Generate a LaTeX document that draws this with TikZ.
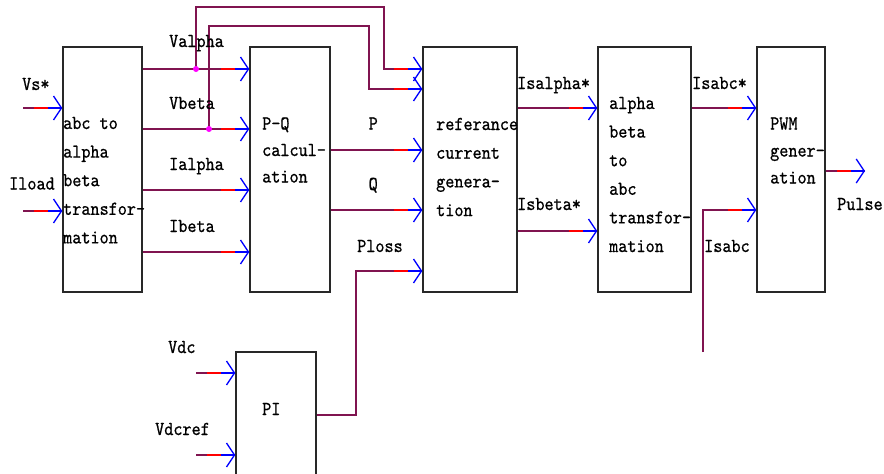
\documentclass[tikz,border=0pt]{standalone}
\usepackage{fontspec}
\newfontfamily\cour[FakeStretch=0.88,FakeBold=0.7]{lmmono10-regular.otf}
\usetikzlibrary{arrows.meta,calc}
\definecolor{wirec}{RGB}{128,20,80}
\definecolor{boxc}{RGB}{40,40,40}
\definecolor{dotc}{RGB}{255,0,255}
\tikzset{
  blockbox/.style={draw=boxc,line width=1.4pt,rectangle,inner sep=0pt,minimum height=245pt},
  wire/.style={draw=wirec,line width=1.4pt},
  redseg/.style={draw=red,line width=1.4pt},
  bluetip/.style={draw=blue,line width=1.3pt,-{Straight Barb[length=8pt,width=24pt]}},
  lbl/.style={font=\cour\fontsize{19.7}{28.7}\selectfont,inner sep=0pt,anchor=base west},
  junction/.style={circle,fill=dotc,inner sep=0pt,minimum size=6pt},
}
\newcommand\feedend[1]{\draw[redseg] ([xshift=-28pt]#1) -- ([xshift=-14pt]#1);
  \draw[bluetip] ([xshift=-14pt]#1) -- (#1);}
\newcommand\blocklines[5]{% name, x, first baseline, spacing, lines
  \foreach \t [count=\i from 0] in {#5} {\node[lbl] (#1\i) at (#2,#3+\i*#4) {\t};}}
\begin{document}
\begin{tikzpicture}[x=1pt,y=-1pt]
\fill[white] (0,0) rectangle (884,474);
\clip (0,0) rectangle (884,474);
% blocks
\node[blockbox,minimum width=79pt] (b1) at (102.5,169.5) {};
\node[blockbox,minimum width=80pt] (b2) at (290,169.5) {};
\node[blockbox,minimum width=94pt] (b3) at (470,169.5) {};
\node[blockbox,minimum width=93pt] (b4) at (644.5,169.5) {};
\node[blockbox,minimum width=68pt] (b5) at (791,169.5) {};
\node[blockbox,minimum width=80pt,minimum height=148pt] (pi) at (276,426) {};
% block texts
\blocklines{tb1}{63}{129}{28.6}{abc to,alpha,beta,transfor-,mation}
\blocklines{tb2}{262}{129.5}{26.5}{P-Q,calcul-,ation}
\blocklines{tb3}{436}{130}{28.7}{referance,current,genera-,tion}
\blocklines{tb4}{609}{109}{28.6}{alpha,beta,to,abc,transfor-,mation}
\blocklines{tb5}{770}{129.5}{27}{PWM,gener-,ation}
\node[lbl] (tpi) at (262,415) {PI};
% inputs of b1
\coordinate (vsS) at (23,108);
\coordinate (vsE) at (b1.west |- vsS);
\draw[wire] (vsS) -- (vsE); \feedend{vsE}
\coordinate (ilS) at (23,211);
\coordinate (ilE) at (b1.west |- ilS);
\draw[wire] (ilS) -- (ilE); \feedend{ilE}
% b1 -> b2
\coordinate (vaS) at (b1.east |- 0,69);  \coordinate (vaE) at (b2.west |- 0,69);
\coordinate (vbS) at (b1.east |- 0,129); \coordinate (vbE) at (b2.west |- 0,129);
\coordinate (iaS) at (b1.east |- 0,190); \coordinate (iaE) at (b2.west |- 0,190);
\coordinate (ibS) at (b1.east |- 0,252); \coordinate (ibE) at (b2.west |- 0,252);
\draw[wire] (vaS) -- (vaE); \feedend{vaE}
\draw[wire] (vbS) -- (vbE); \feedend{vbE}
\draw[wire] (iaS) -- (iaE); \feedend{iaE}
\draw[wire] (ibS) -- (ibE); \feedend{ibE}
% branches to b3
\coordinate (r1E) at (b3.west |- 0,69);
\coordinate (r2E) at (b3.west |- 0,89);
\draw[wire] (196,69) |- (384,7) |- (r1E); \feedend{r1E}
\draw[wire] (209,129) |- (369,26) |- (r2E); \feedend{r2E}
\node[junction] (j1) at (196,69) {};
\node[junction] (j2) at (209,129) {};
% b2 -> b3
\coordinate (pS) at (b2.east |- 0,150); \coordinate (pE) at (b3.west |- 0,150);
\coordinate (qS) at (b2.east |- 0,210); \coordinate (qE) at (b3.west |- 0,210);
\draw[wire] (pS) -- (pE); \feedend{pE}
\draw[wire] (qS) -- (qE); \feedend{qE}
% PI -> b3
\coordinate (plS) at (pi.east |- 0,415); \coordinate (plE) at (b3.west |- 0,271);
\draw[wire] (plS) -| (356,271) -- (plE); \feedend{plE}
% PI inputs
\coordinate (vdS) at (196,373); \coordinate (vdE) at (pi.west |- vdS);
\coordinate (vrS) at (196,455); \coordinate (vrE) at (pi.west |- vrS);
\draw[wire] (vdS) -- (vdE); \feedend{vdE}
\draw[wire] (vrS) -- (vrE); \feedend{vrE}
% b3 -> b4
\coordinate (saS) at (b3.east |- 0,108); \coordinate (saE) at (b4.west |- 0,108);
\coordinate (sbS) at (b3.east |- 0,231); \coordinate (sbE) at (b4.west |- 0,231);
\draw[wire] (saS) -- (saE); \feedend{saE}
\draw[wire] (sbS) -- (sbE); \feedend{sbE}
% b4 -> b5
\coordinate (scS) at (b4.east |- 0,108); \coordinate (scE) at (b5.west |- 0,108);
\draw[wire] (scS) -- (scE); \feedend{scE}
% Isabc
\coordinate (isS) at (703,352); \coordinate (isE) at (b5.west |- 0,210);
\draw[wire] (isS) |- (isE); \feedend{isE}
% Pulse
\coordinate (puS) at (b5.east |- 0,171); \coordinate (puE) at (865,171);
\draw[wire] (puS) -- (puE); \feedend{puE}
% labels
\node[lbl] (lvs) at (22,90) {Vs*};
\node[lbl] (lil) at (9,189.5) {Iload};
\node[lbl] (lva) at (169,47) {Valpha};
\node[lbl] (lvb) at (169,109) {Vbeta};
\node[lbl] (lia) at (169,170) {Ialpha};
\node[lbl] (lib) at (169,232) {Ibeta};
\node[lbl] (lp) at (368.5,129.5) {P};
\node[lbl] (lq) at (368.5,190) {Q};
\node[lbl] (lpl) at (357,252) {Ploss};
\node[lbl] (lsa) at (517,89) {Isalpha*};
\node[lbl] (lsb) at (517,210) {Isbeta*};
\node[lbl] (lsc) at (692,89) {Isabc*};
\node[lbl] (lis) at (704,252) {Isabc};
\node[lbl] (lpu) at (837,210) {Pulse};
\node[lbl] (lvd) at (168,353) {Vdc};
\node[lbl] (lvr) at (155,435) {Vdcref};
\end{tikzpicture}
\end{document}
